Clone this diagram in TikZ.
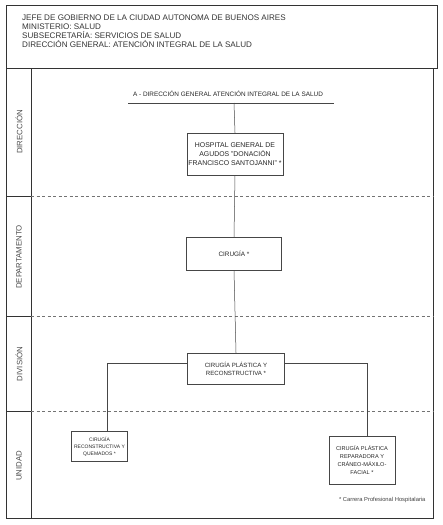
\documentclass[tikz,border=0pt]{standalone}
\usepackage{fontspec}
\setmainfont{Liberation Sans}
\usetikzlibrary{positioning}
\definecolor{scangray}{RGB}{70,70,70}

\begin{document}
\begin{tikzpicture}[
    x=1pt, y=-1pt,
    unit/.style={draw=scangray, fill=white, align=center, inner sep=1pt, text=black!85},
    rowlabel/.style={rotate=90, font=\fontsize{7.8}{8}\selectfont, text=black!70},
    frame/.style={draw=black!80, line width=0.8pt},
    sep/.style={draw=black!55, dashed, dash pattern=on 3pt off 2.5pt, line width=0.4pt},
    link/.style={draw=scangray, line width=0.5pt}
]
\useasboundingbox (0,0) rectangle (442,525);

% header
\draw[frame] (6,5) rectangle (437,68);
\node[anchor=north west, align=left, inner sep=0pt, font=\fontsize{8.1}{9}\selectfont, text=black!80] (header) at (22,14.5)
  {JEFE DE GOBIERNO DE LA CIUDAD AUTONOMA DE BUENOS AIRES\\
   MINISTERIO: SALUD\\
   SUBSECRETARÍA: SERVICIOS DE SALUD\\
   DIRECCIÓN GENERAL: ATENCIÓN INTEGRAL DE LA SALUD};

% main frame and levels
\draw[frame] (6,68) rectangle (433,518);
\draw[frame, line width=0.6pt] (31,68) -- (31,518);
\foreach \y in {196,316,411} {
  \draw[frame, line width=0.6pt] (6,\y) -- (31,\y);
  \draw[sep] (31,\y) -- (433,\y);
}
\node[rowlabel] (lvldir) at (19,132) {DIRECCIÓN};
\node[rowlabel] (lvldep) at (19,257) {DEPARTAMENTO};
\node[rowlabel] (lvldiv) at (19,364) {DIVISIÓN};
\node[rowlabel] (lvluni) at (19,466) {UNIDAD};

% title of the chart
\node[font=\fontsize{6.4}{7}\selectfont, text=black!85] (title) at (228,94) {A - DIRECCIÓN GENERAL ATENCIÓN INTEGRAL DE LA SALUD};
\draw[link] (128,103) -- (334,103);
\coordinate (top) at (234,103);

% units
\node[unit, minimum width=96pt, minimum height=42pt, font=\fontsize{6.9}{9}\selectfont] (hosp) at (235,154) {HOSPITAL GENERAL DE\\AGUDOS "DONACIÓN\\FRANCISCO SANTOJANNI" *};
\node[unit, minimum width=95pt, minimum height=33pt, font=\fontsize{6.4}{8}\selectfont] (cirugia) at (234,253.5) {CIRUGÍA *};
\node[unit, minimum width=97pt, minimum height=31pt, font=\fontsize{6.1}{8}\selectfont] (plastica) at (236,368.5) {CIRUGÍA PLÁSTICA Y\\RECONSTRUCTIVA *};
\node[unit, minimum width=56pt, minimum height=30pt, font=\fontsize{5}{7}\selectfont] (quemados) at (99.5,446.5) {CIRUGÍA\\RECONSTRUCTIVA Y\\QUEMADOS *};
\node[unit, minimum width=66pt, minimum height=48pt, font=\fontsize{5.6}{8}\selectfont] (maxilo) at (362,460) {CIRUGÍA PLÁSTICA\\REPARADORA Y\\CRÁNEO-MÁXILO-\\FACIAL *};

% connectors
\coordinate (brL) at (107,363);
\coordinate (brR) at (367,363);
\draw[link] (top) -- (hosp.north);
\draw[link] (hosp.south) -- (cirugia.north);
\draw[link] (cirugia.south) -- (plastica.north);
\draw[link] (brL) -- (plastica.west |- brL);
\draw[link] (plastica.east |- brR) -- (brR);
\draw[link] (brL) -- (brL |- quemados.north);
\draw[link] (brR) -- (brR |- maxilo.north);

% note
\node[anchor=east, font=\fontsize{5.8}{6}\selectfont, text=black!75] (note) at (429,500) {* Carrera Profesional Hospitalaria};
\end{tikzpicture}
\end{document}
